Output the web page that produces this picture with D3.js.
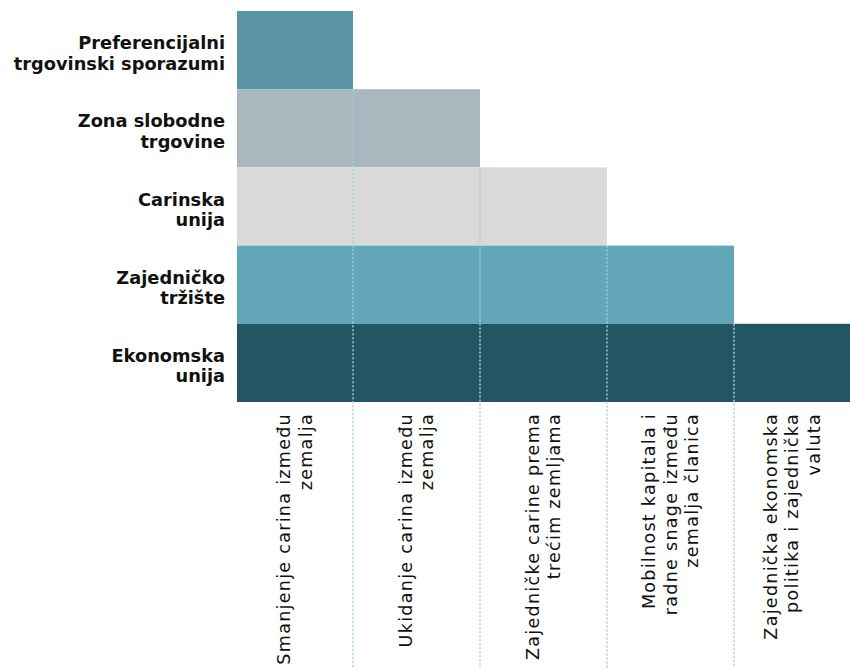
<!DOCTYPE html>
<html>
<head>
<meta charset="utf-8">
<script src="https://cdn.jsdelivr.net/npm/d3@7"></script>
<style>
  body { margin: 0; background: #fff; }
  svg { display: block; }
  .cat { font-family: "DejaVu Sans", sans-serif; font-weight: bold; font-size: 17.8px; fill: #111; }
  .tick-label { font-family: "DejaVu Sans", sans-serif; font-size: 17.5px; letter-spacing: 1.3px; fill: #111; }
</style>
</head>
<body>
<svg id="chart"></svg>
<script>
// integration levels, top to bottom
var categories = [
    ["Preferencijalni", "trgovinski sporazumi"],
    ["Zona slobodne", "trgovine"],
    ["Carinska", "unija"],
    ["Zajedničko", "tržište"],
    ["Ekonomska", "unija"]
]
// how many columns (steps) each level covers
var steps = [1, 2, 3, 4, 5]
var colors = ["#5b94a5", "#aab7bf", "#d9d9d9", "#63a6b9", "#235563"]

// column labels along the bottom
var columns = [
    ["Smanjenje carina između", "zemalja"],
    ["Ukidanje carina između", "zemalja"],
    ["Zajedničke carine prema", "trećim zemljama"],
    ["Mobilnost kapitala i", "radne snage između", "zemalja članica"],
    ["Zajednička ekonomska", "politika i zajednička", "valuta"]
]

var screen = { width: 850, height: 668 }
var plot = { left: 237, right: 850, top: 11, bottom: 402 }

var svg = d3.select("#chart")
    .attr("width", screen.width)
    .attr("height", screen.height)

var xScale = d3.scaleLinear()
    .domain([0, 5])
    .range([226, 861])

var yScale = d3.scaleBand()
    .domain(d3.range(categories.length))
    .range([plot.top, plot.bottom])
    .padding(0)

svg.append("defs").append("clipPath")
    .attr("id", "plotClip")
    .append("rect")
    .attr("x", plot.left)
    .attr("y", 0)
    .attr("width", plot.right - plot.left)
    .attr("height", screen.height)

var graph = svg.append("g").attr("clip-path", "url(#plotClip)")

graph.selectAll("rect.bar")
    .data(steps)
    .enter()
    .append("rect")
    .classed("bar", true)
    .attr("x", xScale(0))
    .attr("y", function (d, i) { return yScale(i) })
    .attr("width", function (d) { return xScale(d) - xScale(0) })
    .attr("height", yScale.bandwidth())
    .attr("fill", function (d, i) { return colors[i] })

// dotted column dividers start at the first row that crosses them
var dividers = d3.range(1, columns.length)
graph.selectAll("line.divider")
    .data(dividers)
    .enter()
    .append("line")
    .classed("divider", true)
    .attr("x1", function (k) { return xScale(k) })
    .attr("x2", function (k) { return xScale(k) })
    .attr("y1", function (k) {
        var row = steps.findIndex(function (s) { return s > k })
        return yScale(row)
    })
    .attr("y2", screen.height)
    .attr("stroke", "#9fd0e2")
    .attr("stroke-width", 1.5)
    .attr("stroke-dasharray", "2,2")

// category labels on the left
var catLabels = svg.append("g")
    .selectAll("text")
    .data(categories)
    .enter()
    .append("text")
    .classed("cat", true)
    .attr("text-anchor", "end")
    .attr("transform", function (d, i) {
        return "translate(225," + (yScale(i) + yScale.bandwidth() / 2) + ")"
    })

catLabels.selectAll("tspan")
    .data(function (d) { return d })
    .enter()
    .append("tspan")
    .attr("x", 0)
    .attr("y", function (d, j) { return -1 + j * 20.5 })
    .text(function (d) { return d })

// column labels, rotated, reading upwards
var colLabels = svg.append("g")
    .selectAll("text")
    .data(columns)
    .enter()
    .append("text")
    .classed("tick-label", true)
    .attr("text-anchor", "end")
    .attr("transform", function (d, i) {
        var left = Math.max(xScale(i), plot.left)
        var right = Math.min(xScale(i + 1), plot.right)
        var cx = (left + right) / 2
        var lineH = 21.5
        var firstBase = cx - (d.length - 1) * lineH / 2 + 6
        return "translate(" + firstBase + ",413) rotate(-90)"
    })

colLabels.selectAll("tspan")
    .data(function (d) { return d })
    .enter()
    .append("tspan")
    .attr("x", 0)
    .attr("y", function (d, j) { return j * 21.5 })
    .text(function (d) { return d })
</script>
</body>
</html>
